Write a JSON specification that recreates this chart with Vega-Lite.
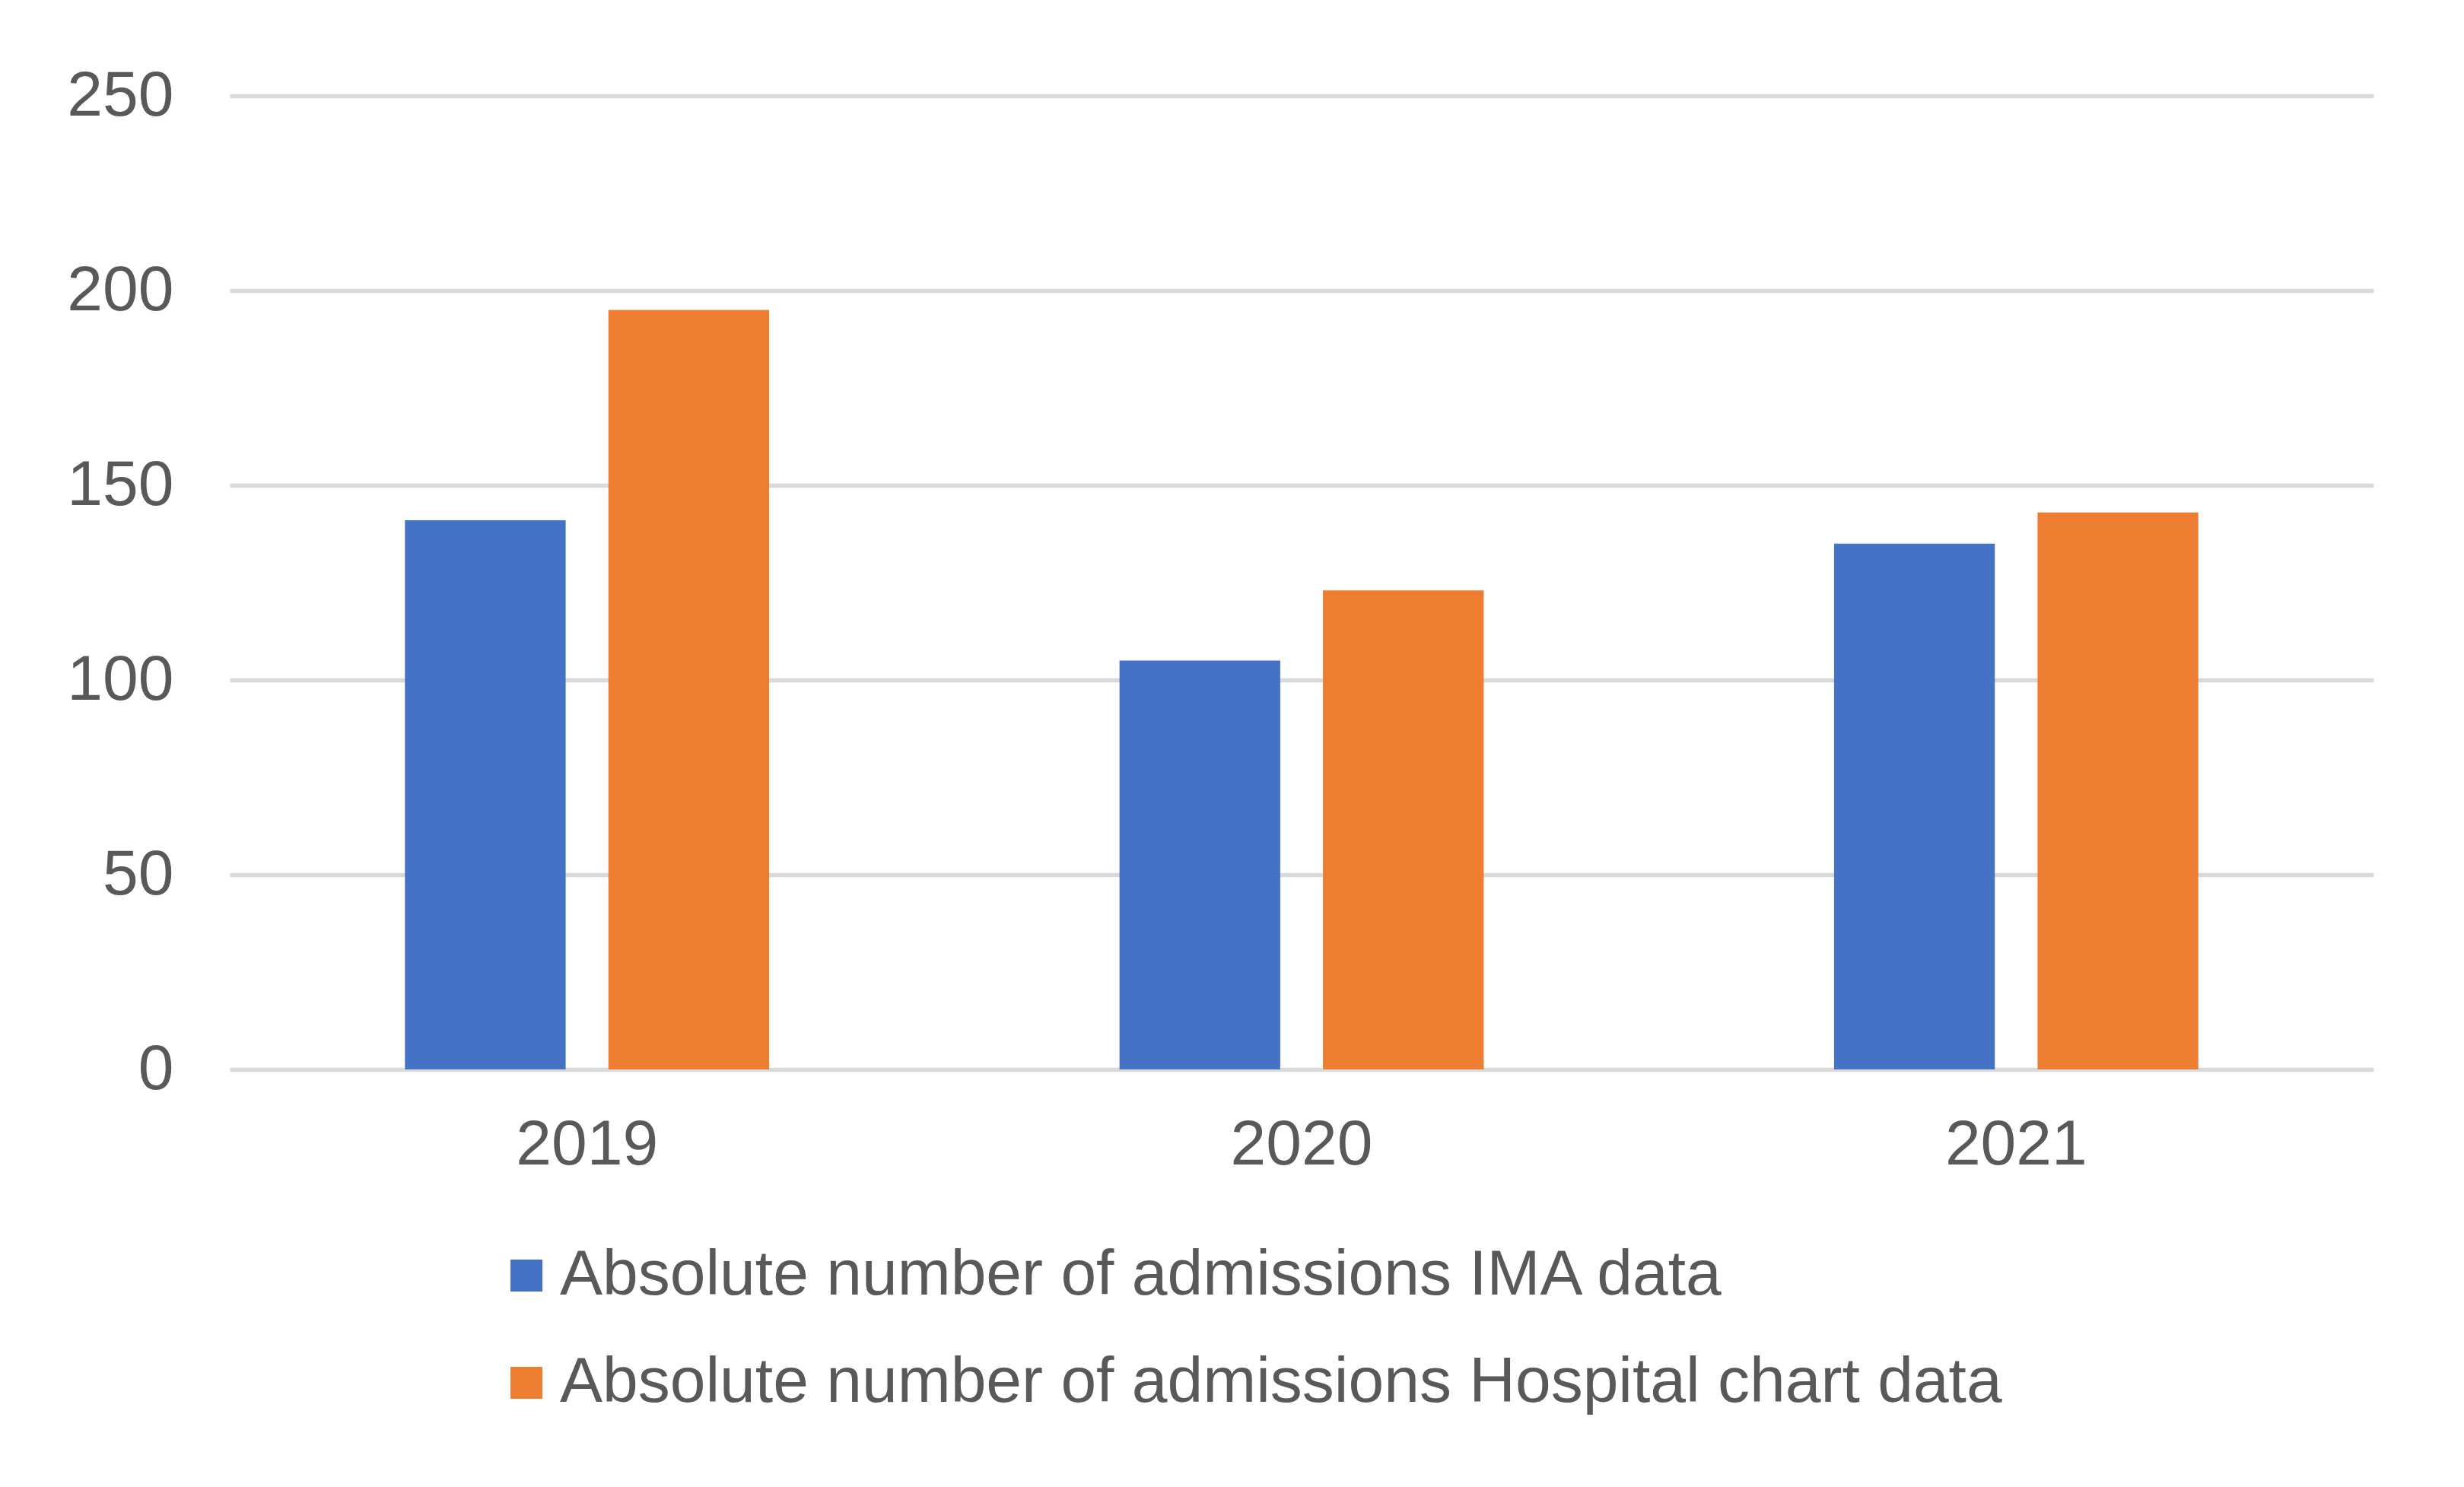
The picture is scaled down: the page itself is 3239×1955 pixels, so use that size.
{
  "$schema": "https://vega.github.io/schema/vega-lite/v6.json",
  "autosize": {"type": "none"},
  "padding": {"left": 302, "top": 126, "right": 119, "bottom": 549},
  "width": 2818,
  "height": 1280,
  "background": "white",
  "config": {
    "view": {"stroke": null},
    "font": "Liberation Sans",
    "axis": {"labelFont": "Liberation Sans", "labelColor": "#595959", "labelFontSize": 84, "labelLimit": 1000, "ticks": false, "domain": false, "title": null},
    "legend": {"labelFont": "Liberation Sans"}
  },
  "data": {
    "values": [
      {"year": "2019", "series": "Absolute number of admissions IMA data", "value": 141},
      {"year": "2019", "series": "Absolute number of admissions Hospital chart data", "value": 195},
      {"year": "2020", "series": "Absolute number of admissions IMA data", "value": 105},
      {"year": "2020", "series": "Absolute number of admissions Hospital chart data", "value": 123},
      {"year": "2021", "series": "Absolute number of admissions IMA data", "value": 135},
      {"year": "2021", "series": "Absolute number of admissions Hospital chart data", "value": 143}
    ]
  },
  "mark": {"type": "bar"},
  "encoding": {
    "x": {
      "field": "year", "type": "nominal",
      "scale": {"paddingInner": 0, "paddingOuter": 0},
      "axis": {"labelAngle": 0, "labelPadding": 58, "grid": false}
    },
    "xOffset": {
      "field": "series", "type": "nominal",
      "sort": ["Absolute number of admissions IMA data", "Absolute number of admissions Hospital chart data"],
      "scale": {"paddingInner": 0.21, "paddingOuter": 0.861}
    },
    "y": {
      "field": "value", "type": "quantitative",
      "scale": {"domain": [0, 250], "nice": false},
      "axis": {"values": [0, 50, 100, 150, 200, 250], "grid": true, "gridColor": "#d9d9d9", "gridWidth": 5.5, "labelPadding": 74}
    },
    "color": {
      "field": "series", "type": "nominal",
      "sort": ["Absolute number of admissions IMA data", "Absolute number of admissions Hospital chart data"],
      "scale": {"range": ["#4472C4", "#ED7D31"]},
      "legend": {
        "title": null,
        "orient": "none",
        "legendX": 348,
        "legendY": 1509,
        "direction": "vertical",
        "symbolType": "square",
        "symbolSize": 1764,
        "symbolStrokeWidth": 0,
        "symbolOpacity": 1,
        "labelFontSize": 84,
        "labelColor": "#595959",
        "labelOffset": 2,
        "labelLimit": 3000,
        "rowPadding": 57,
        "padding": 0
      }
    }
  }
}
